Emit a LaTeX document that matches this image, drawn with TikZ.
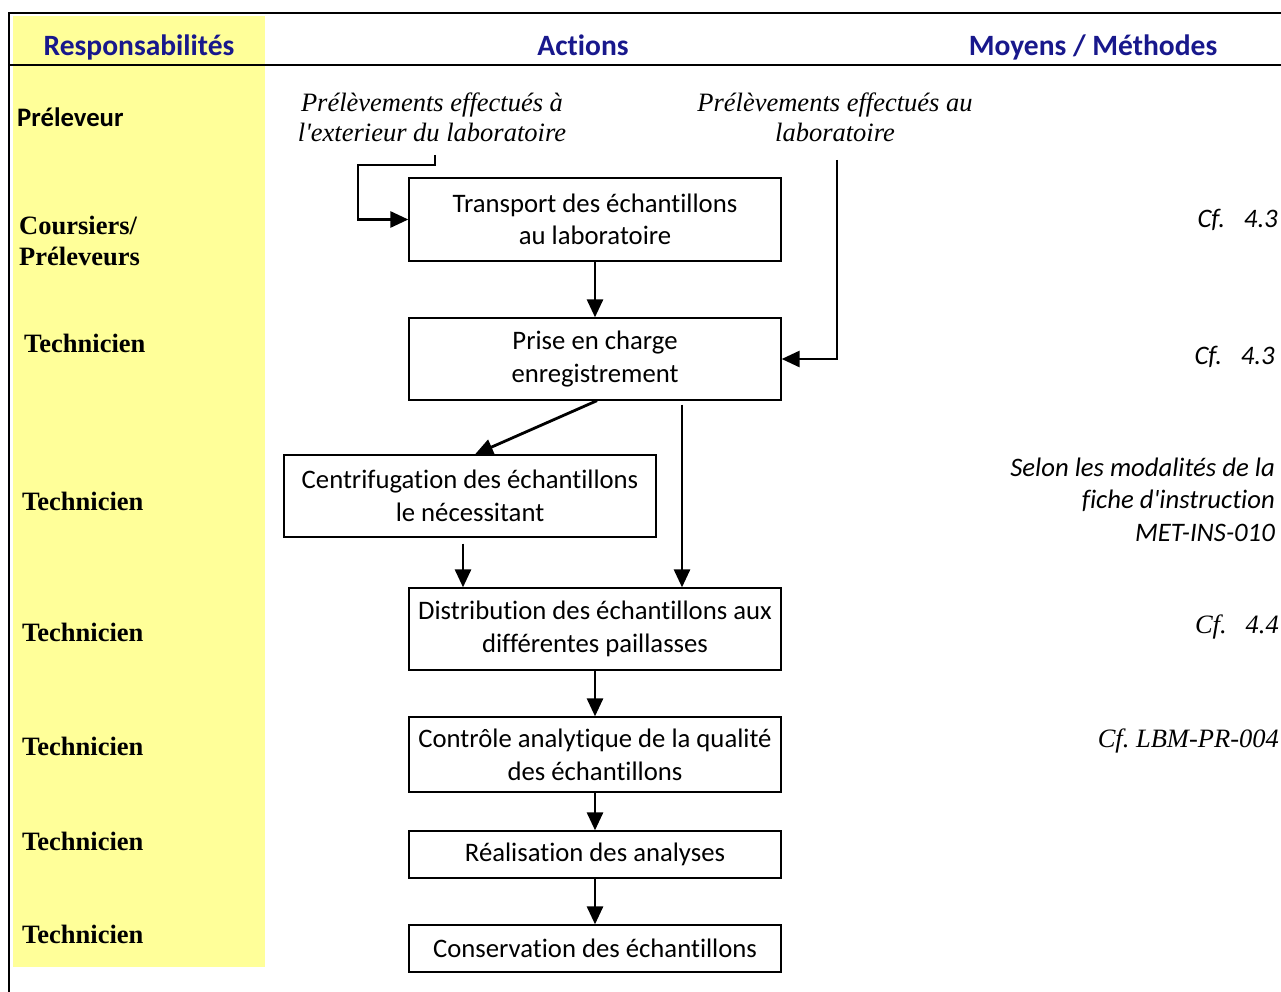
\documentclass[tikz,border=0pt]{standalone}
\usepackage{fontspec}
\setmainfont{Carlito}[Ligatures={NoCommon}]
\newfontfamily\tms{Liberation Serif}
\usetikzlibrary{arrows.meta}
\definecolor{hdr}{RGB}{24,24,140}
\definecolor{ylw}{RGB}{255,255,153}
\frenchspacing
\begin{document}
\begin{tikzpicture}[x=1pt,y=-1pt,
  box/.style={draw, line width=1.3pt, minimum width=372pt, align=center, inner sep=0pt,
    font=\fontsize{26.7}{33}\selectfont},
  arr/.style={line width=2.8pt, -{Triangle[length=18pt,width=16pt]}},
  frame/.style={line width=2pt},
  head/.style={anchor=base, font=\fontsize{29.5}{32}\selectfont\bfseries, text=hdr, inner sep=0pt},
  role/.style={anchor=west, inner sep=0pt, align=left, font=\tms\fontsize{26.5}{31}\selectfont\bfseries},
  src/.style={inner sep=0pt, align=center, font=\tms\fontsize{26.5}{30}\selectfont\itshape},
  ref/.style={anchor=east, inner sep=0pt, align=right, font=\fontsize{26.7}{32.5}\selectfont\itshape},
  tref/.style={anchor=east, inner sep=0pt, align=right, font=\tms\fontsize{26.5}{31}\selectfont\itshape}]
\useasboundingbox (0,0) rectangle (1281,992);
\fill[ylw] (13,16) rectangle (265,967);
\draw[frame] (9,992) -- (9,13) -- (1281,13);
\draw[frame] (10,65) -- (1281,65);
% headers
\node[head] (h1) at (139,56) {Responsabilités};
\node[head] (h2) at (583,56) {Actions};
\node[head] (h3) at (1093,56) {Moyens / Méthodes};
% roles
\node[role, font=\fontsize{26.7}{31}\selectfont\bfseries] (r1) at (17,117) {Préleveur};
\node[role] (r2) at (19,241) {Coursiers/\\Préleveurs};
\node[role] (r3) at (24,343) {Technicien};
\node[role] (r4) at (22,501) {Technicien};
\node[role] (r5) at (22,632) {Technicien};
\node[role] (r6) at (22,746) {Technicien};
\node[role] (r7) at (22,841) {Technicien};
\node[role] (r8) at (22,934) {Technicien};
% sources
\node[src] (ext) at (432,117) {Prélèvements effectués à\\l\textquotesingle exterieur du laboratoire};
\node[src] (lab) at (835,117) {Prélèvements effectués au\\laboratoire};
% boxes
\node[box, minimum height=83pt] (b1) at (595,219.5) {Transport des échantillons\\[-1pt]au laboratoire};
\node[box, minimum height=82pt] (b2) at (595,359) {Prise en charge\\enregistrement};
\node[box, minimum height=82pt] (b3) at (470,496) {Centrifugation des échantillons\\le nécessitant};
\node[box, minimum height=82pt] (b4) at (595,629) {Distribution des échantillons aux\\différentes paillasses};
\node[box, minimum height=75pt] (b5) at (595,754.5) {Contrôle analytique de la qualité\\des échantillons};
\node[box, minimum height=47pt] (b6) at (595,854.5) {Réalisation des analyses};
\node[box, minimum height=47pt] (b7) at (595,948.5) {Conservation des échantillons};
% references
\node[ref] (m1) at (1278,220) {Cf.\hspace{19pt}4.3};
\node[ref] (m2) at (1275,357) {Cf.\hspace{19pt}4.3};
\node[ref] (m3) at (1275,499.5) {Selon les modalités de la\\fiche d\textquotesingle instruction\\MET-INS-010};
\node[tref] (m4) at (1279,627) {Cf.\hspace{19pt}4.4};
\node[tref] (m5) at (1279,741) {Cf. LBM-PR-004};
% connectors
\coordinate (e1) at (435,155);
\coordinate (k1) at (358,165);
\coordinate (e2) at (837,160);
\draw[arr] (e1) |- (k1) |- (b1.west);
\draw[arr] (e2) |- (b2.east);
\draw[arr] (b1.south) -- (b2.north);
\draw[arr] ([xshift=2pt]b2.south) -- ([xshift=5pt]b3.north);
\draw[arr] ([xshift=87pt,yshift=-4pt]b2.south) -- ([xshift=87pt]b4.north);
\draw[arr] ([xshift=-7pt,yshift=-6pt]b3.south) -- ([xshift=-132pt]b4.north);
\draw[arr] (b4.south) -- (b5.north);
\draw[arr] (b5.south) -- (b6.north);
\draw[arr] (b6.south) -- (b7.north);
\end{tikzpicture}
\end{document}
